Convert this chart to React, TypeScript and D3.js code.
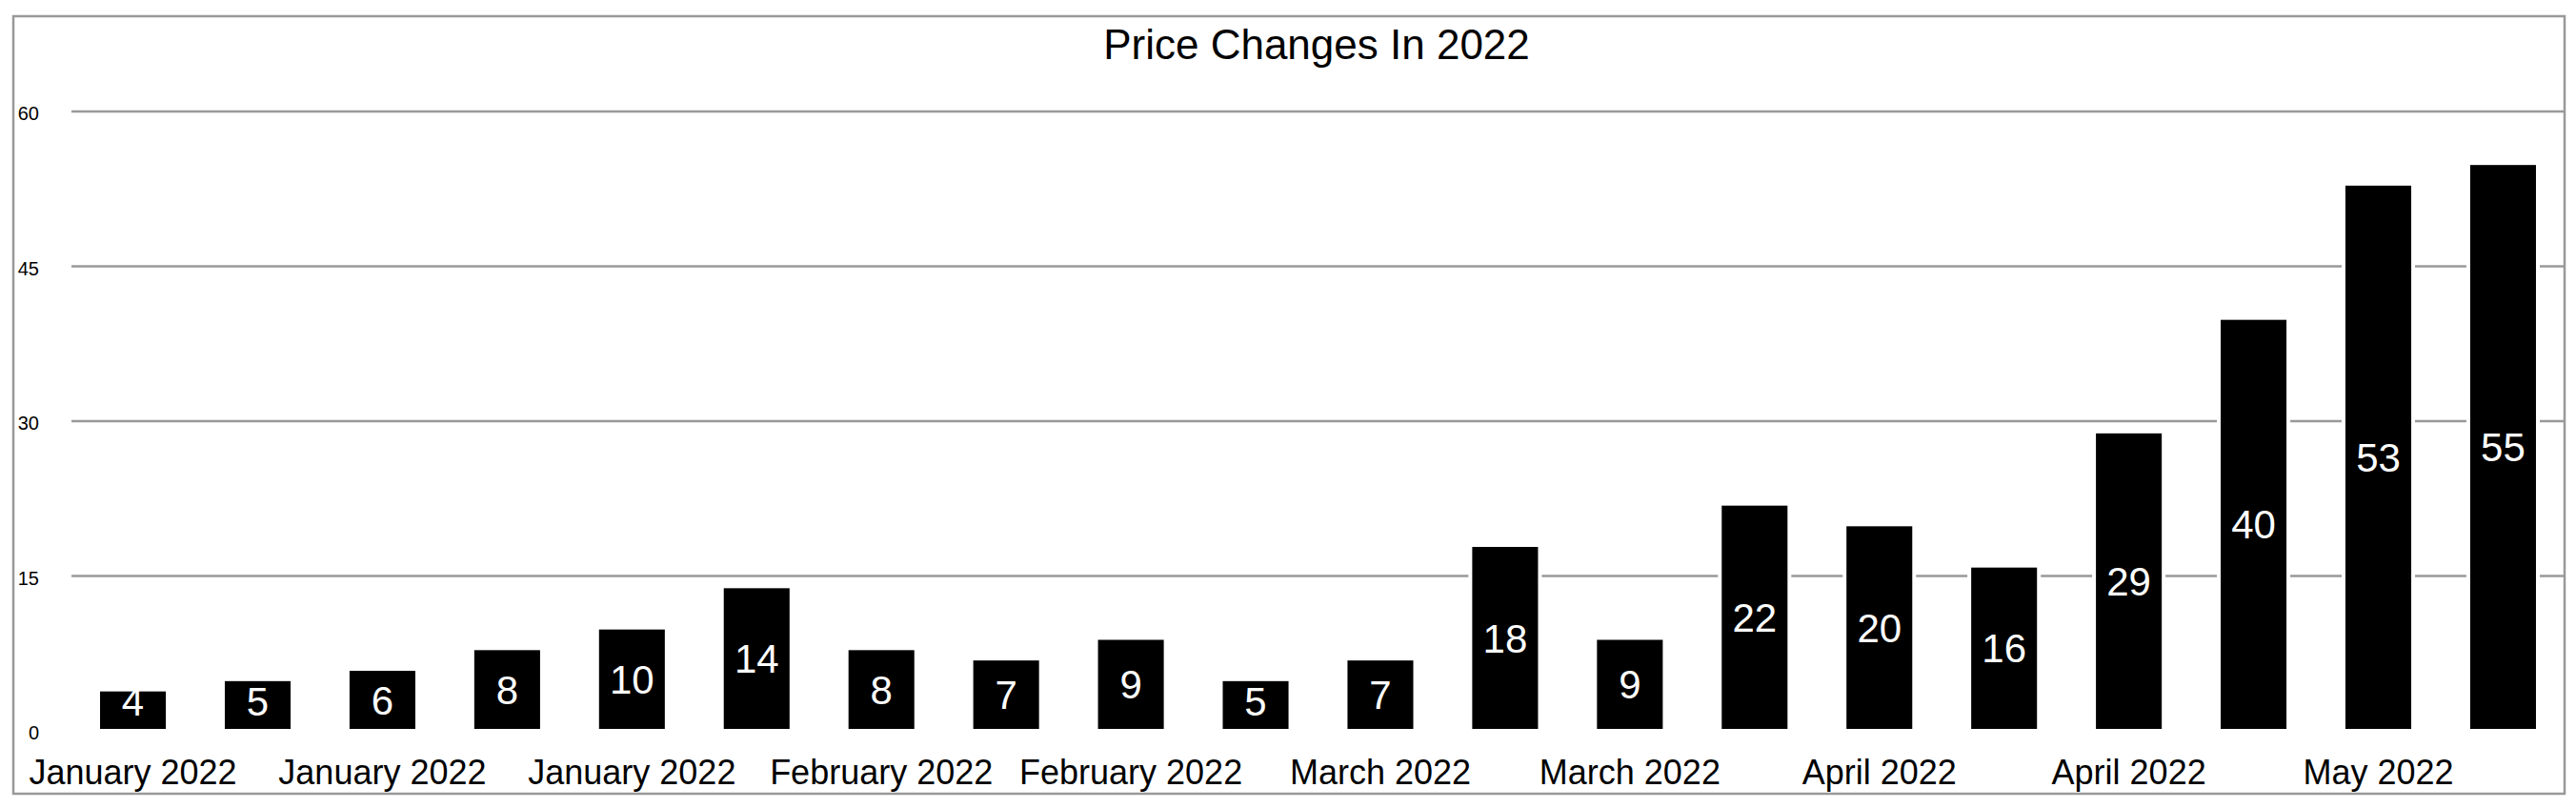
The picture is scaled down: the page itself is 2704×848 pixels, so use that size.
import React from "react";
import * as d3 from "d3";

const title = "Price Changes In 2022";
const categories = [
  "January 2022", "January 2022", "January 2022", "January 2022", "January 2022",
  "February 2022", "February 2022", "February 2022", "February 2022",
  "March 2022", "March 2022", "March 2022", "March 2022",
  "April 2022", "April 2022", "April 2022", "April 2022", "April 2022",
  "May 2022", "May 2022",
];
const values = [4, 5, 6, 8, 10, 14, 8, 7, 9, 5, 7, 18, 9, 22, 20, 16, 29, 40, 53, 55];
const yTicks = [0, 15, 30, 45, 60];

const FONT = "'Liberation Sans', Arial, sans-serif";

export default function App() {
  const W = 2704, H = 848;
  const x = d3.scaleBand<number>()
    .domain(d3.range(values.length))
    .range([75, 2692])
    .paddingInner(0.442)
    .paddingOuter(0.214);
  const y = d3.scaleLinear().domain([0, 60]).range([767, 117]);
  const y0 = y(0);

  return (
    <svg width={W} height={H} style={{ position: "absolute", left: 0, top: 0, background: "#fff" }}>
      <rect x={14} y={17} width={2692 - 14} height={833 - 17} fill="#fff" stroke="#999" strokeWidth={2.5} />
      <text x={1382} y={62} textAnchor="middle" fontFamily={FONT} fontSize={44} fill="#000">{title}</text>
      {yTicks.filter(t => t > 0).map(t => (
        <line key={"g" + t} x1={75} x2={2692} y1={y(t)} y2={y(t)} stroke="#999" strokeWidth={2.5} />
      ))}
      {yTicks.map(t => (
        <text key={"t" + t} x={41} y={y(t) + 2} textAnchor="end" dominantBaseline="central"
          fontFamily={FONT} fontSize={20} fill="#000">{t}</text>
      ))}
      {values.map((v, i) => (
        <rect key={"b" + i} x={x(i)} y={y(v)} width={x.bandwidth()} height={y0 - y(v)}
          fill="#000" stroke="#fff" strokeWidth={4} />
      ))}
      {values.map((v, i) => {
        const mid = (y(v) + y0) / 2;
        const base = Math.min(mid + 15, y0 - 16);
        return (
          <text key={"l" + i} x={(x(i) as number) + x.bandwidth() / 2} y={base} textAnchor="middle"
            fontFamily={FONT} fontSize={42} fill="#fff">{v}</text>
        );
      })}
      {categories.map((c, i) => i % 2 === 0 ? (
        <text key={"c" + i} x={(x(i) as number) + x.bandwidth() / 2} y={823} textAnchor="middle"
          fontFamily={FONT} fontSize={36} fill="#000">{c}</text>
      ) : null)}
    </svg>
  );
}
